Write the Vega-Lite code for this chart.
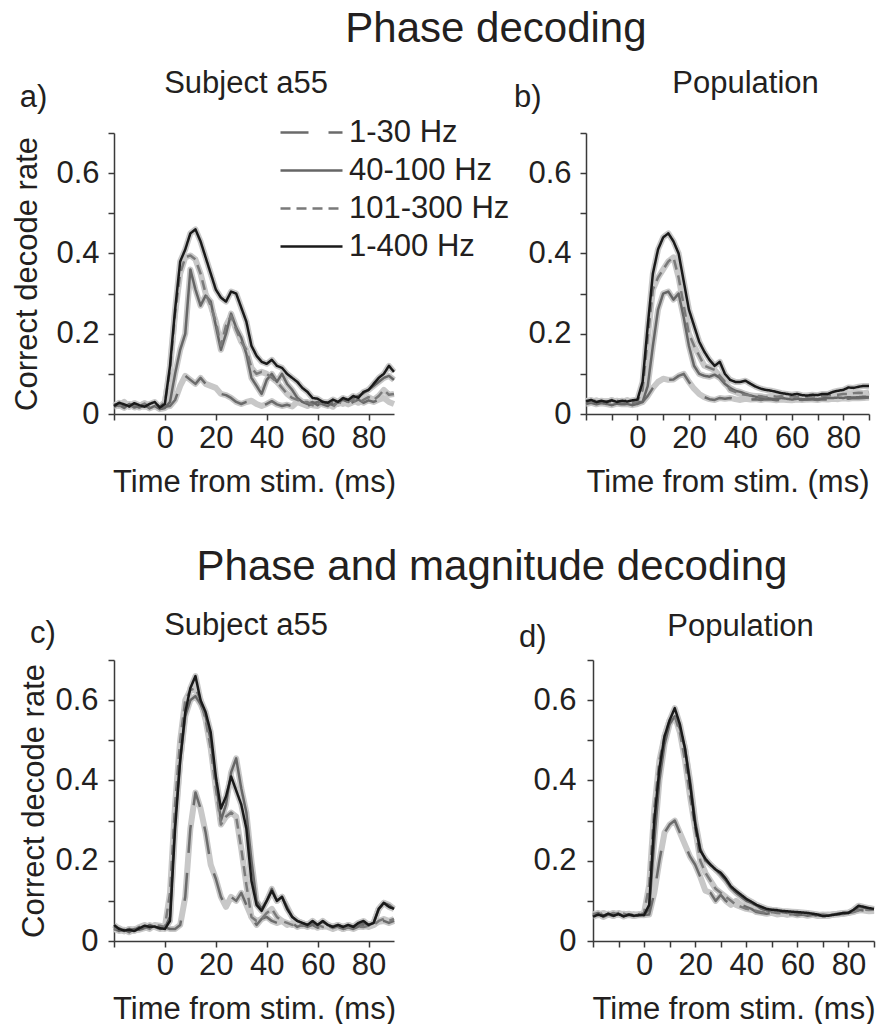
{
  "$schema": "https://vega.github.io/schema/vega-lite/v6.json",
  "background": "white",
  "padding": {"left": 11, "top": 8, "right": 5, "bottom": 0},
  "config": {
    "font": "Liberation Sans",
    "view": {"stroke": null},
    "axis": {
      "grid": false,
      "domainColor": "#3a3a3a",
      "domainWidth": 1.5,
      "tickColor": "#3a3a3a",
      "tickWidth": 1.5,
      "tickSize": 6,
      "labelFontSize": 31,
      "titleFontSize": 31,
      "labelColor": "#231f20",
      "titleColor": "#231f20",
      "titleFontWeight": "normal",
      "labelFont": "Liberation Sans",
      "titleFont": "Liberation Sans",
      "labelOverlap": false,
      "labelFlush": false
    },
    "axisX": {"values": [-20, -10, 0, 10, 20, 30, 40, 50, 60, 70, 80, 90], "labelExpr": "datum.value >= 0 && datum.value % 20 == 0 ? toString(datum.value) : ''", "labelPadding": 3, "titlePadding": 14},
    "axisY": {"values": [0, 0.1, 0.2, 0.3, 0.4, 0.5, 0.6], "labelExpr": "round(datum.value * 10) % 2 == 0 ? toString(datum.value) : ''"},
    "title": {"fontSize": 31, "fontWeight": "normal", "color": "#231f20", "font": "Liberation Sans"},
    "text": {"font": "Liberation Sans"}
  },
  "datasets": {
    "pa": [
      {"t": -20, "1-30 Hz": 0.022, "40-100 Hz": 0.018, "101-300 Hz": 0.025, "1-400 Hz": 0.02},
      {"t": -18, "1-30 Hz": 0.026, "40-100 Hz": 0.022, "101-300 Hz": 0.02, "1-400 Hz": 0.028},
      {"t": -16, "1-30 Hz": 0.018, "40-100 Hz": 0.015, "101-300 Hz": 0.03, "1-400 Hz": 0.024},
      {"t": -14, "1-30 Hz": 0.024, "40-100 Hz": 0.025, "101-300 Hz": 0.018, "1-400 Hz": 0.019},
      {"t": -12, "1-30 Hz": 0.016, "40-100 Hz": 0.02, "101-300 Hz": 0.024, "1-400 Hz": 0.027},
      {"t": -10, "1-30 Hz": 0.02, "40-100 Hz": 0.016, "101-300 Hz": 0.02, "1-400 Hz": 0.022},
      {"t": -8, "1-30 Hz": 0.027, "40-100 Hz": 0.022, "101-300 Hz": 0.026, "1-400 Hz": 0.018},
      {"t": -6, "1-30 Hz": 0.019, "40-100 Hz": 0.014, "101-300 Hz": 0.017, "1-400 Hz": 0.025},
      {"t": -4, "1-30 Hz": 0.022, "40-100 Hz": 0.02, "101-300 Hz": 0.023, "1-400 Hz": 0.03},
      {"t": -2, "1-30 Hz": 0.015, "40-100 Hz": 0.012, "101-300 Hz": 0.018, "1-400 Hz": 0.016},
      {"t": 0, "1-30 Hz": 0.018, "40-100 Hz": 0.015, "101-300 Hz": 0.03, "1-400 Hz": 0.025},
      {"t": 2, "1-30 Hz": 0.02, "40-100 Hz": 0.03, "101-300 Hz": 0.11, "1-400 Hz": 0.12},
      {"t": 4, "1-30 Hz": 0.035, "40-100 Hz": 0.1, "101-300 Hz": 0.25, "1-400 Hz": 0.26},
      {"t": 6, "1-30 Hz": 0.07, "40-100 Hz": 0.16, "101-300 Hz": 0.35, "1-400 Hz": 0.38},
      {"t": 8, "1-30 Hz": 0.095, "40-100 Hz": 0.2, "101-300 Hz": 0.39, "1-400 Hz": 0.41},
      {"t": 10, "1-30 Hz": 0.085, "40-100 Hz": 0.36, "101-300 Hz": 0.395, "1-400 Hz": 0.45},
      {"t": 12, "1-30 Hz": 0.075, "40-100 Hz": 0.31, "101-300 Hz": 0.385, "1-400 Hz": 0.46},
      {"t": 14, "1-30 Hz": 0.09, "40-100 Hz": 0.27, "101-300 Hz": 0.35, "1-400 Hz": 0.43},
      {"t": 16, "1-30 Hz": 0.075, "40-100 Hz": 0.295, "101-300 Hz": 0.3, "1-400 Hz": 0.39},
      {"t": 18, "1-30 Hz": 0.07, "40-100 Hz": 0.28, "101-300 Hz": 0.27, "1-400 Hz": 0.35},
      {"t": 20, "1-30 Hz": 0.065, "40-100 Hz": 0.22, "101-300 Hz": 0.23, "1-400 Hz": 0.31},
      {"t": 22, "1-30 Hz": 0.05, "40-100 Hz": 0.16, "101-300 Hz": 0.17, "1-400 Hz": 0.29},
      {"t": 24, "1-30 Hz": 0.047, "40-100 Hz": 0.2, "101-300 Hz": 0.22, "1-400 Hz": 0.28},
      {"t": 26, "1-30 Hz": 0.04, "40-100 Hz": 0.25, "101-300 Hz": 0.245, "1-400 Hz": 0.305},
      {"t": 28, "1-30 Hz": 0.03, "40-100 Hz": 0.215, "101-300 Hz": 0.21, "1-400 Hz": 0.3},
      {"t": 30, "1-30 Hz": 0.025, "40-100 Hz": 0.19, "101-300 Hz": 0.18, "1-400 Hz": 0.265},
      {"t": 32, "1-30 Hz": 0.03, "40-100 Hz": 0.15, "101-300 Hz": 0.16, "1-400 Hz": 0.23},
      {"t": 34, "1-30 Hz": 0.033, "40-100 Hz": 0.09, "101-300 Hz": 0.115, "1-400 Hz": 0.17},
      {"t": 36, "1-30 Hz": 0.025, "40-100 Hz": 0.07, "101-300 Hz": 0.1, "1-400 Hz": 0.145},
      {"t": 38, "1-30 Hz": 0.02, "40-100 Hz": 0.05, "101-300 Hz": 0.105, "1-400 Hz": 0.13},
      {"t": 40, "1-30 Hz": 0.025, "40-100 Hz": 0.085, "101-300 Hz": 0.1, "1-400 Hz": 0.125},
      {"t": 42, "1-30 Hz": 0.032, "40-100 Hz": 0.1, "101-300 Hz": 0.09, "1-400 Hz": 0.135},
      {"t": 44, "1-30 Hz": 0.024, "40-100 Hz": 0.08, "101-300 Hz": 0.08, "1-400 Hz": 0.12},
      {"t": 46, "1-30 Hz": 0.02, "40-100 Hz": 0.1, "101-300 Hz": 0.065, "1-400 Hz": 0.115},
      {"t": 48, "1-30 Hz": 0.023, "40-100 Hz": 0.075, "101-300 Hz": 0.05, "1-400 Hz": 0.1},
      {"t": 50, "1-30 Hz": 0.019, "40-100 Hz": 0.06, "101-300 Hz": 0.04, "1-400 Hz": 0.09},
      {"t": 52, "1-30 Hz": 0.03, "40-100 Hz": 0.04, "101-300 Hz": 0.035, "1-400 Hz": 0.08},
      {"t": 54, "1-30 Hz": 0.025, "40-100 Hz": 0.03, "101-300 Hz": 0.03, "1-400 Hz": 0.065},
      {"t": 56, "1-30 Hz": 0.02, "40-100 Hz": 0.025, "101-300 Hz": 0.03, "1-400 Hz": 0.055},
      {"t": 58, "1-30 Hz": 0.026, "40-100 Hz": 0.03, "101-300 Hz": 0.022, "1-400 Hz": 0.04},
      {"t": 60, "1-30 Hz": 0.03, "40-100 Hz": 0.022, "101-300 Hz": 0.02, "1-400 Hz": 0.038},
      {"t": 62, "1-30 Hz": 0.024, "40-100 Hz": 0.03, "101-300 Hz": 0.03, "1-400 Hz": 0.03},
      {"t": 64, "1-30 Hz": 0.02, "40-100 Hz": 0.028, "101-300 Hz": 0.025, "1-400 Hz": 0.028},
      {"t": 66, "1-30 Hz": 0.03, "40-100 Hz": 0.022, "101-300 Hz": 0.018, "1-400 Hz": 0.036},
      {"t": 68, "1-30 Hz": 0.025, "40-100 Hz": 0.03, "101-300 Hz": 0.03, "1-400 Hz": 0.03},
      {"t": 70, "1-30 Hz": 0.03, "40-100 Hz": 0.035, "101-300 Hz": 0.025, "1-400 Hz": 0.04},
      {"t": 72, "1-30 Hz": 0.024, "40-100 Hz": 0.03, "101-300 Hz": 0.032, "1-400 Hz": 0.035},
      {"t": 74, "1-30 Hz": 0.03, "40-100 Hz": 0.04, "101-300 Hz": 0.035, "1-400 Hz": 0.045},
      {"t": 76, "1-30 Hz": 0.036, "40-100 Hz": 0.045, "101-300 Hz": 0.028, "1-400 Hz": 0.04},
      {"t": 78, "1-30 Hz": 0.028, "40-100 Hz": 0.052, "101-300 Hz": 0.035, "1-400 Hz": 0.055},
      {"t": 80, "1-30 Hz": 0.034, "40-100 Hz": 0.06, "101-300 Hz": 0.042, "1-400 Hz": 0.06},
      {"t": 82, "1-30 Hz": 0.03, "40-100 Hz": 0.07, "101-300 Hz": 0.035, "1-400 Hz": 0.075},
      {"t": 84, "1-30 Hz": 0.036, "40-100 Hz": 0.08, "101-300 Hz": 0.045, "1-400 Hz": 0.09},
      {"t": 86, "1-30 Hz": 0.04, "40-100 Hz": 0.09, "101-300 Hz": 0.06, "1-400 Hz": 0.1},
      {"t": 88, "1-30 Hz": 0.03, "40-100 Hz": 0.095, "101-300 Hz": 0.048, "1-400 Hz": 0.12},
      {"t": 90, "1-30 Hz": 0.025, "40-100 Hz": 0.085, "101-300 Hz": 0.05, "1-400 Hz": 0.105}
    ],
    "pb": [
      {"t": -20, "1-30 Hz": 0.03, "40-100 Hz": 0.025, "101-300 Hz": 0.033, "1-400 Hz": 0.032},
      {"t": -18, "1-30 Hz": 0.033, "40-100 Hz": 0.028, "101-300 Hz": 0.03, "1-400 Hz": 0.035},
      {"t": -16, "1-30 Hz": 0.028, "40-100 Hz": 0.024, "101-300 Hz": 0.034, "1-400 Hz": 0.03},
      {"t": -14, "1-30 Hz": 0.032, "40-100 Hz": 0.027, "101-300 Hz": 0.029, "1-400 Hz": 0.033},
      {"t": -12, "1-30 Hz": 0.03, "40-100 Hz": 0.025, "101-300 Hz": 0.032, "1-400 Hz": 0.03},
      {"t": -10, "1-30 Hz": 0.035, "40-100 Hz": 0.022, "101-300 Hz": 0.03, "1-400 Hz": 0.034},
      {"t": -8, "1-30 Hz": 0.03, "40-100 Hz": 0.026, "101-300 Hz": 0.033, "1-400 Hz": 0.03},
      {"t": -6, "1-30 Hz": 0.032, "40-100 Hz": 0.024, "101-300 Hz": 0.03, "1-400 Hz": 0.033},
      {"t": -4, "1-30 Hz": 0.03, "40-100 Hz": 0.025, "101-300 Hz": 0.035, "1-400 Hz": 0.031},
      {"t": -2, "1-30 Hz": 0.028, "40-100 Hz": 0.022, "101-300 Hz": 0.03, "1-400 Hz": 0.034},
      {"t": 0, "1-30 Hz": 0.03, "40-100 Hz": 0.025, "101-300 Hz": 0.032, "1-400 Hz": 0.036},
      {"t": 2, "1-30 Hz": 0.03, "40-100 Hz": 0.03, "101-300 Hz": 0.06, "1-400 Hz": 0.08},
      {"t": 4, "1-30 Hz": 0.045, "40-100 Hz": 0.07, "101-300 Hz": 0.19, "1-400 Hz": 0.22},
      {"t": 6, "1-30 Hz": 0.065, "40-100 Hz": 0.17, "101-300 Hz": 0.31, "1-400 Hz": 0.35},
      {"t": 8, "1-30 Hz": 0.08, "40-100 Hz": 0.26, "101-300 Hz": 0.34, "1-400 Hz": 0.41},
      {"t": 10, "1-30 Hz": 0.088, "40-100 Hz": 0.3, "101-300 Hz": 0.36, "1-400 Hz": 0.44},
      {"t": 12, "1-30 Hz": 0.085, "40-100 Hz": 0.305, "101-300 Hz": 0.38, "1-400 Hz": 0.45},
      {"t": 14, "1-30 Hz": 0.086, "40-100 Hz": 0.285, "101-300 Hz": 0.39, "1-400 Hz": 0.43},
      {"t": 16, "1-30 Hz": 0.095, "40-100 Hz": 0.3, "101-300 Hz": 0.34, "1-400 Hz": 0.4},
      {"t": 18, "1-30 Hz": 0.1, "40-100 Hz": 0.24, "101-300 Hz": 0.27, "1-400 Hz": 0.33},
      {"t": 20, "1-30 Hz": 0.08, "40-100 Hz": 0.17, "101-300 Hz": 0.2, "1-400 Hz": 0.26},
      {"t": 22, "1-30 Hz": 0.063, "40-100 Hz": 0.12, "101-300 Hz": 0.17, "1-400 Hz": 0.22},
      {"t": 24, "1-30 Hz": 0.05, "40-100 Hz": 0.1, "101-300 Hz": 0.145, "1-400 Hz": 0.18},
      {"t": 26, "1-30 Hz": 0.042, "40-100 Hz": 0.095, "101-300 Hz": 0.12, "1-400 Hz": 0.155},
      {"t": 28, "1-30 Hz": 0.037, "40-100 Hz": 0.093, "101-300 Hz": 0.115, "1-400 Hz": 0.135},
      {"t": 30, "1-30 Hz": 0.035, "40-100 Hz": 0.098, "101-300 Hz": 0.11, "1-400 Hz": 0.12},
      {"t": 32, "1-30 Hz": 0.04, "40-100 Hz": 0.09, "101-300 Hz": 0.095, "1-400 Hz": 0.13},
      {"t": 34, "1-30 Hz": 0.038, "40-100 Hz": 0.075, "101-300 Hz": 0.08, "1-400 Hz": 0.1},
      {"t": 36, "1-30 Hz": 0.04, "40-100 Hz": 0.065, "101-300 Hz": 0.06, "1-400 Hz": 0.085},
      {"t": 38, "1-30 Hz": 0.037, "40-100 Hz": 0.058, "101-300 Hz": 0.055, "1-400 Hz": 0.08},
      {"t": 40, "1-30 Hz": 0.035, "40-100 Hz": 0.055, "101-300 Hz": 0.05, "1-400 Hz": 0.08},
      {"t": 42, "1-30 Hz": 0.038, "40-100 Hz": 0.05, "101-300 Hz": 0.048, "1-400 Hz": 0.083},
      {"t": 44, "1-30 Hz": 0.036, "40-100 Hz": 0.046, "101-300 Hz": 0.046, "1-400 Hz": 0.075},
      {"t": 46, "1-30 Hz": 0.037, "40-100 Hz": 0.043, "101-300 Hz": 0.045, "1-400 Hz": 0.068},
      {"t": 48, "1-30 Hz": 0.035, "40-100 Hz": 0.04, "101-300 Hz": 0.044, "1-400 Hz": 0.063},
      {"t": 50, "1-30 Hz": 0.037, "40-100 Hz": 0.04, "101-300 Hz": 0.042, "1-400 Hz": 0.06},
      {"t": 52, "1-30 Hz": 0.036, "40-100 Hz": 0.038, "101-300 Hz": 0.045, "1-400 Hz": 0.058},
      {"t": 54, "1-30 Hz": 0.034, "40-100 Hz": 0.037, "101-300 Hz": 0.043, "1-400 Hz": 0.055},
      {"t": 56, "1-30 Hz": 0.036, "40-100 Hz": 0.04, "101-300 Hz": 0.044, "1-400 Hz": 0.052},
      {"t": 58, "1-30 Hz": 0.035, "40-100 Hz": 0.038, "101-300 Hz": 0.042, "1-400 Hz": 0.05},
      {"t": 60, "1-30 Hz": 0.034, "40-100 Hz": 0.036, "101-300 Hz": 0.044, "1-400 Hz": 0.048},
      {"t": 62, "1-30 Hz": 0.036, "40-100 Hz": 0.038, "101-300 Hz": 0.042, "1-400 Hz": 0.05},
      {"t": 64, "1-30 Hz": 0.035, "40-100 Hz": 0.037, "101-300 Hz": 0.045, "1-400 Hz": 0.047},
      {"t": 66, "1-30 Hz": 0.037, "40-100 Hz": 0.036, "101-300 Hz": 0.043, "1-400 Hz": 0.046},
      {"t": 68, "1-30 Hz": 0.036, "40-100 Hz": 0.038, "101-300 Hz": 0.044, "1-400 Hz": 0.048},
      {"t": 70, "1-30 Hz": 0.035, "40-100 Hz": 0.037, "101-300 Hz": 0.043, "1-400 Hz": 0.047},
      {"t": 72, "1-30 Hz": 0.037, "40-100 Hz": 0.039, "101-300 Hz": 0.045, "1-400 Hz": 0.05},
      {"t": 74, "1-30 Hz": 0.036, "40-100 Hz": 0.04, "101-300 Hz": 0.046, "1-400 Hz": 0.05},
      {"t": 76, "1-30 Hz": 0.038, "40-100 Hz": 0.04, "101-300 Hz": 0.047, "1-400 Hz": 0.055},
      {"t": 78, "1-30 Hz": 0.037, "40-100 Hz": 0.041, "101-300 Hz": 0.048, "1-400 Hz": 0.058},
      {"t": 80, "1-30 Hz": 0.039, "40-100 Hz": 0.04, "101-300 Hz": 0.05, "1-400 Hz": 0.06},
      {"t": 82, "1-30 Hz": 0.038, "40-100 Hz": 0.042, "101-300 Hz": 0.05, "1-400 Hz": 0.066},
      {"t": 84, "1-30 Hz": 0.04, "40-100 Hz": 0.041, "101-300 Hz": 0.052, "1-400 Hz": 0.065},
      {"t": 86, "1-30 Hz": 0.039, "40-100 Hz": 0.042, "101-300 Hz": 0.053, "1-400 Hz": 0.068},
      {"t": 88, "1-30 Hz": 0.04, "40-100 Hz": 0.043, "101-300 Hz": 0.052, "1-400 Hz": 0.07},
      {"t": 90, "1-30 Hz": 0.041, "40-100 Hz": 0.042, "101-300 Hz": 0.054, "1-400 Hz": 0.07}
    ],
    "pc": [
      {"t": -20, "1-30 Hz": 0.035, "40-100 Hz": 0.03, "101-300 Hz": 0.028, "1-400 Hz": 0.04},
      {"t": -18, "1-30 Hz": 0.03, "40-100 Hz": 0.025, "101-300 Hz": 0.032, "1-400 Hz": 0.03},
      {"t": -16, "1-30 Hz": 0.025, "40-100 Hz": 0.028, "101-300 Hz": 0.024, "1-400 Hz": 0.026},
      {"t": -14, "1-30 Hz": 0.03, "40-100 Hz": 0.022, "101-300 Hz": 0.03, "1-400 Hz": 0.028},
      {"t": -12, "1-30 Hz": 0.028, "40-100 Hz": 0.03, "101-300 Hz": 0.026, "1-400 Hz": 0.025},
      {"t": -10, "1-30 Hz": 0.035, "40-100 Hz": 0.028, "101-300 Hz": 0.03, "1-400 Hz": 0.032},
      {"t": -8, "1-30 Hz": 0.04, "40-100 Hz": 0.032, "101-300 Hz": 0.035, "1-400 Hz": 0.038},
      {"t": -6, "1-30 Hz": 0.033, "40-100 Hz": 0.04, "101-300 Hz": 0.03, "1-400 Hz": 0.035},
      {"t": -4, "1-30 Hz": 0.038, "40-100 Hz": 0.035, "101-300 Hz": 0.04, "1-400 Hz": 0.036},
      {"t": -2, "1-30 Hz": 0.035, "40-100 Hz": 0.03, "101-300 Hz": 0.038, "1-400 Hz": 0.032},
      {"t": 0, "1-30 Hz": 0.034, "40-100 Hz": 0.033, "101-300 Hz": 0.035, "1-400 Hz": 0.03},
      {"t": 2, "1-30 Hz": 0.03, "40-100 Hz": 0.06, "101-300 Hz": 0.12, "1-400 Hz": 0.05},
      {"t": 4, "1-30 Hz": 0.03, "40-100 Hz": 0.3, "101-300 Hz": 0.34, "1-400 Hz": 0.28},
      {"t": 6, "1-30 Hz": 0.04, "40-100 Hz": 0.45, "101-300 Hz": 0.5, "1-400 Hz": 0.45},
      {"t": 8, "1-30 Hz": 0.11, "40-100 Hz": 0.56, "101-300 Hz": 0.6, "1-400 Hz": 0.57},
      {"t": 10, "1-30 Hz": 0.28, "40-100 Hz": 0.6, "101-300 Hz": 0.625, "1-400 Hz": 0.63},
      {"t": 12, "1-30 Hz": 0.37, "40-100 Hz": 0.61, "101-300 Hz": 0.63, "1-400 Hz": 0.66},
      {"t": 14, "1-30 Hz": 0.33, "40-100 Hz": 0.59, "101-300 Hz": 0.6, "1-400 Hz": 0.6},
      {"t": 16, "1-30 Hz": 0.27, "40-100 Hz": 0.56, "101-300 Hz": 0.55, "1-400 Hz": 0.57},
      {"t": 18, "1-30 Hz": 0.19, "40-100 Hz": 0.5, "101-300 Hz": 0.48, "1-400 Hz": 0.52},
      {"t": 20, "1-30 Hz": 0.155, "40-100 Hz": 0.4, "101-300 Hz": 0.38, "1-400 Hz": 0.41},
      {"t": 22, "1-30 Hz": 0.11, "40-100 Hz": 0.3, "101-300 Hz": 0.29, "1-400 Hz": 0.33},
      {"t": 24, "1-30 Hz": 0.085, "40-100 Hz": 0.34, "101-300 Hz": 0.31, "1-400 Hz": 0.36},
      {"t": 26, "1-30 Hz": 0.11, "40-100 Hz": 0.42, "101-300 Hz": 0.32, "1-400 Hz": 0.41},
      {"t": 28, "1-30 Hz": 0.1, "40-100 Hz": 0.455, "101-300 Hz": 0.31, "1-400 Hz": 0.375},
      {"t": 30, "1-30 Hz": 0.12, "40-100 Hz": 0.38, "101-300 Hz": 0.23, "1-400 Hz": 0.34},
      {"t": 32, "1-30 Hz": 0.09, "40-100 Hz": 0.32, "101-300 Hz": 0.14, "1-400 Hz": 0.28},
      {"t": 34, "1-30 Hz": 0.06, "40-100 Hz": 0.2, "101-300 Hz": 0.06, "1-400 Hz": 0.15},
      {"t": 36, "1-30 Hz": 0.04, "40-100 Hz": 0.1, "101-300 Hz": 0.05, "1-400 Hz": 0.09},
      {"t": 38, "1-30 Hz": 0.055, "40-100 Hz": 0.08, "101-300 Hz": 0.055, "1-400 Hz": 0.075},
      {"t": 40, "1-30 Hz": 0.06, "40-100 Hz": 0.1, "101-300 Hz": 0.07, "1-400 Hz": 0.1},
      {"t": 42, "1-30 Hz": 0.05, "40-100 Hz": 0.13, "101-300 Hz": 0.08, "1-400 Hz": 0.125},
      {"t": 44, "1-30 Hz": 0.045, "40-100 Hz": 0.1, "101-300 Hz": 0.06, "1-400 Hz": 0.1},
      {"t": 46, "1-30 Hz": 0.05, "40-100 Hz": 0.11, "101-300 Hz": 0.05, "1-400 Hz": 0.11},
      {"t": 48, "1-30 Hz": 0.04, "40-100 Hz": 0.085, "101-300 Hz": 0.045, "1-400 Hz": 0.08},
      {"t": 50, "1-30 Hz": 0.045, "40-100 Hz": 0.06, "101-300 Hz": 0.04, "1-400 Hz": 0.06},
      {"t": 52, "1-30 Hz": 0.035, "40-100 Hz": 0.05, "101-300 Hz": 0.042, "1-400 Hz": 0.05},
      {"t": 54, "1-30 Hz": 0.04, "40-100 Hz": 0.045, "101-300 Hz": 0.038, "1-400 Hz": 0.045},
      {"t": 56, "1-30 Hz": 0.035, "40-100 Hz": 0.04, "101-300 Hz": 0.042, "1-400 Hz": 0.04},
      {"t": 58, "1-30 Hz": 0.04, "40-100 Hz": 0.045, "101-300 Hz": 0.036, "1-400 Hz": 0.05},
      {"t": 60, "1-30 Hz": 0.033, "40-100 Hz": 0.04, "101-300 Hz": 0.04, "1-400 Hz": 0.04},
      {"t": 62, "1-30 Hz": 0.038, "40-100 Hz": 0.048, "101-300 Hz": 0.035, "1-400 Hz": 0.05},
      {"t": 64, "1-30 Hz": 0.035, "40-100 Hz": 0.04, "101-300 Hz": 0.038, "1-400 Hz": 0.04},
      {"t": 66, "1-30 Hz": 0.03, "40-100 Hz": 0.036, "101-300 Hz": 0.032, "1-400 Hz": 0.035},
      {"t": 68, "1-30 Hz": 0.035, "40-100 Hz": 0.04, "101-300 Hz": 0.036, "1-400 Hz": 0.04},
      {"t": 70, "1-30 Hz": 0.03, "40-100 Hz": 0.035, "101-300 Hz": 0.03, "1-400 Hz": 0.035},
      {"t": 72, "1-30 Hz": 0.034, "40-100 Hz": 0.04, "101-300 Hz": 0.035, "1-400 Hz": 0.04},
      {"t": 74, "1-30 Hz": 0.03, "40-100 Hz": 0.036, "101-300 Hz": 0.033, "1-400 Hz": 0.035},
      {"t": 76, "1-30 Hz": 0.036, "40-100 Hz": 0.042, "101-300 Hz": 0.036, "1-400 Hz": 0.045},
      {"t": 78, "1-30 Hz": 0.04, "40-100 Hz": 0.045, "101-300 Hz": 0.035, "1-400 Hz": 0.05},
      {"t": 80, "1-30 Hz": 0.035, "40-100 Hz": 0.04, "101-300 Hz": 0.038, "1-400 Hz": 0.04},
      {"t": 82, "1-30 Hz": 0.04, "40-100 Hz": 0.045, "101-300 Hz": 0.04, "1-400 Hz": 0.045},
      {"t": 84, "1-30 Hz": 0.048, "40-100 Hz": 0.08, "101-300 Hz": 0.05, "1-400 Hz": 0.08},
      {"t": 86, "1-30 Hz": 0.05, "40-100 Hz": 0.095, "101-300 Hz": 0.055, "1-400 Hz": 0.095},
      {"t": 88, "1-30 Hz": 0.045, "40-100 Hz": 0.09, "101-300 Hz": 0.05, "1-400 Hz": 0.085},
      {"t": 90, "1-30 Hz": 0.05, "40-100 Hz": 0.08, "101-300 Hz": 0.055, "1-400 Hz": 0.08}
    ],
    "pd": [
      {"t": -20, "1-30 Hz": 0.066, "40-100 Hz": 0.062, "101-300 Hz": 0.068, "1-400 Hz": 0.06},
      {"t": -18, "1-30 Hz": 0.07, "40-100 Hz": 0.068, "101-300 Hz": 0.064, "1-400 Hz": 0.066},
      {"t": -16, "1-30 Hz": 0.063, "40-100 Hz": 0.06, "101-300 Hz": 0.07, "1-400 Hz": 0.062},
      {"t": -14, "1-30 Hz": 0.068, "40-100 Hz": 0.066, "101-300 Hz": 0.065, "1-400 Hz": 0.068},
      {"t": -12, "1-30 Hz": 0.064, "40-100 Hz": 0.062, "101-300 Hz": 0.07, "1-400 Hz": 0.063},
      {"t": -10, "1-30 Hz": 0.07, "40-100 Hz": 0.068, "101-300 Hz": 0.066, "1-400 Hz": 0.067},
      {"t": -8, "1-30 Hz": 0.066, "40-100 Hz": 0.063, "101-300 Hz": 0.068, "1-400 Hz": 0.061},
      {"t": -6, "1-30 Hz": 0.068, "40-100 Hz": 0.065, "101-300 Hz": 0.064, "1-400 Hz": 0.066},
      {"t": -4, "1-30 Hz": 0.064, "40-100 Hz": 0.062, "101-300 Hz": 0.067, "1-400 Hz": 0.063},
      {"t": -2, "1-30 Hz": 0.067, "40-100 Hz": 0.066, "101-300 Hz": 0.065, "1-400 Hz": 0.064},
      {"t": 0, "1-30 Hz": 0.065, "40-100 Hz": 0.064, "101-300 Hz": 0.07, "1-400 Hz": 0.065},
      {"t": 2, "1-30 Hz": 0.066, "40-100 Hz": 0.08, "101-300 Hz": 0.14, "1-400 Hz": 0.09},
      {"t": 4, "1-30 Hz": 0.12, "40-100 Hz": 0.25, "101-300 Hz": 0.33, "1-400 Hz": 0.3},
      {"t": 6, "1-30 Hz": 0.2, "40-100 Hz": 0.4, "101-300 Hz": 0.45, "1-400 Hz": 0.43},
      {"t": 8, "1-30 Hz": 0.27, "40-100 Hz": 0.49, "101-300 Hz": 0.51, "1-400 Hz": 0.51},
      {"t": 10, "1-30 Hz": 0.29, "40-100 Hz": 0.54, "101-300 Hz": 0.55, "1-400 Hz": 0.55},
      {"t": 12, "1-30 Hz": 0.3, "40-100 Hz": 0.56, "101-300 Hz": 0.56, "1-400 Hz": 0.58},
      {"t": 14, "1-30 Hz": 0.27, "40-100 Hz": 0.53, "101-300 Hz": 0.52, "1-400 Hz": 0.54},
      {"t": 16, "1-30 Hz": 0.24, "40-100 Hz": 0.48, "101-300 Hz": 0.45, "1-400 Hz": 0.48},
      {"t": 18, "1-30 Hz": 0.21, "40-100 Hz": 0.4, "101-300 Hz": 0.36, "1-400 Hz": 0.39},
      {"t": 20, "1-30 Hz": 0.19, "40-100 Hz": 0.3, "101-300 Hz": 0.28, "1-400 Hz": 0.29},
      {"t": 22, "1-30 Hz": 0.16, "40-100 Hz": 0.23, "101-300 Hz": 0.2, "1-400 Hz": 0.225},
      {"t": 24, "1-30 Hz": 0.125, "40-100 Hz": 0.2, "101-300 Hz": 0.17, "1-400 Hz": 0.205},
      {"t": 26, "1-30 Hz": 0.12, "40-100 Hz": 0.19, "101-300 Hz": 0.15, "1-400 Hz": 0.19},
      {"t": 28, "1-30 Hz": 0.1, "40-100 Hz": 0.178, "101-300 Hz": 0.13, "1-400 Hz": 0.178},
      {"t": 30, "1-30 Hz": 0.115, "40-100 Hz": 0.165, "101-300 Hz": 0.12, "1-400 Hz": 0.17},
      {"t": 32, "1-30 Hz": 0.1, "40-100 Hz": 0.15, "101-300 Hz": 0.11, "1-400 Hz": 0.155},
      {"t": 34, "1-30 Hz": 0.09, "40-100 Hz": 0.132, "101-300 Hz": 0.1, "1-400 Hz": 0.136},
      {"t": 36, "1-30 Hz": 0.1, "40-100 Hz": 0.12, "101-300 Hz": 0.09, "1-400 Hz": 0.125},
      {"t": 38, "1-30 Hz": 0.09, "40-100 Hz": 0.11, "101-300 Hz": 0.085, "1-400 Hz": 0.115},
      {"t": 40, "1-30 Hz": 0.085, "40-100 Hz": 0.1, "101-300 Hz": 0.08, "1-400 Hz": 0.105},
      {"t": 42, "1-30 Hz": 0.08, "40-100 Hz": 0.095, "101-300 Hz": 0.078, "1-400 Hz": 0.098},
      {"t": 44, "1-30 Hz": 0.072, "40-100 Hz": 0.088, "101-300 Hz": 0.075, "1-400 Hz": 0.09},
      {"t": 46, "1-30 Hz": 0.07, "40-100 Hz": 0.08, "101-300 Hz": 0.072, "1-400 Hz": 0.085},
      {"t": 48, "1-30 Hz": 0.068, "40-100 Hz": 0.076, "101-300 Hz": 0.07, "1-400 Hz": 0.08},
      {"t": 50, "1-30 Hz": 0.07, "40-100 Hz": 0.074, "101-300 Hz": 0.072, "1-400 Hz": 0.078},
      {"t": 52, "1-30 Hz": 0.066, "40-100 Hz": 0.073, "101-300 Hz": 0.07, "1-400 Hz": 0.077},
      {"t": 54, "1-30 Hz": 0.068, "40-100 Hz": 0.072, "101-300 Hz": 0.069, "1-400 Hz": 0.075},
      {"t": 56, "1-30 Hz": 0.065, "40-100 Hz": 0.07, "101-300 Hz": 0.071, "1-400 Hz": 0.074},
      {"t": 58, "1-30 Hz": 0.067, "40-100 Hz": 0.071, "101-300 Hz": 0.068, "1-400 Hz": 0.073},
      {"t": 60, "1-30 Hz": 0.064, "40-100 Hz": 0.069, "101-300 Hz": 0.07, "1-400 Hz": 0.072},
      {"t": 62, "1-30 Hz": 0.066, "40-100 Hz": 0.068, "101-300 Hz": 0.067, "1-400 Hz": 0.071},
      {"t": 64, "1-30 Hz": 0.063, "40-100 Hz": 0.067, "101-300 Hz": 0.068, "1-400 Hz": 0.07},
      {"t": 66, "1-30 Hz": 0.065, "40-100 Hz": 0.066, "101-300 Hz": 0.066, "1-400 Hz": 0.068},
      {"t": 68, "1-30 Hz": 0.062, "40-100 Hz": 0.064, "101-300 Hz": 0.065, "1-400 Hz": 0.066},
      {"t": 70, "1-30 Hz": 0.064, "40-100 Hz": 0.062, "101-300 Hz": 0.066, "1-400 Hz": 0.062},
      {"t": 72, "1-30 Hz": 0.066, "40-100 Hz": 0.063, "101-300 Hz": 0.064, "1-400 Hz": 0.063},
      {"t": 74, "1-30 Hz": 0.065, "40-100 Hz": 0.066, "101-300 Hz": 0.067, "1-400 Hz": 0.065},
      {"t": 76, "1-30 Hz": 0.068, "40-100 Hz": 0.068, "101-300 Hz": 0.066, "1-400 Hz": 0.067},
      {"t": 78, "1-30 Hz": 0.067, "40-100 Hz": 0.07, "101-300 Hz": 0.069, "1-400 Hz": 0.07},
      {"t": 80, "1-30 Hz": 0.07, "40-100 Hz": 0.071, "101-300 Hz": 0.07, "1-400 Hz": 0.07},
      {"t": 82, "1-30 Hz": 0.072, "40-100 Hz": 0.076, "101-300 Hz": 0.073, "1-400 Hz": 0.078},
      {"t": 84, "1-30 Hz": 0.078, "40-100 Hz": 0.085, "101-300 Hz": 0.076, "1-400 Hz": 0.088},
      {"t": 86, "1-30 Hz": 0.076, "40-100 Hz": 0.083, "101-300 Hz": 0.078, "1-400 Hz": 0.085},
      {"t": 88, "1-30 Hz": 0.074, "40-100 Hz": 0.08, "101-300 Hz": 0.077, "1-400 Hz": 0.082},
      {"t": 90, "1-30 Hz": 0.075, "40-100 Hz": 0.079, "101-300 Hz": 0.078, "1-400 Hz": 0.08}
    ]
  },
  "resolve": {"scale": {"color": "independent", "strokeDash": "independent"}, "legend": {"color": "independent", "strokeDash": "independent"}},
  "columns": 1,
  "align": "none",
  "spacing": 48,
  "concat": [
    {
      "title": {"text": "Phase decoding", "fontSize": 42, "anchor": "middle", "dx": 54, "offset": 17},
      "spacing": 3,
      "resolve": {"scale": {"color": "independent", "strokeDash": "independent"}, "legend": {"color": "independent", "strokeDash": "independent"}},
      "hconcat": [
        {
          "width": 280, "height": 281,
          "title": {"text": "Subject a55", "frame": "group", "anchor": "middle", "dx": -8, "offset": -18},
          "layer": [
            {"data": {"name": "pa"}, "transform": [{"fold": ["1-30 Hz", "40-100 Hz", "101-300 Hz", "1-400 Hz"], "as": ["band", "rate"]}],
              "mark": {"type": "line", "color": "#c8c8c8", "strokeWidth": 6, "strokeJoin": "round"},
              "encoding": {
                "x": {"field": "t", "type": "quantitative", "scale": {"domain": [-20, 90], "nice": false, "zero": false}, "axis": {"title": "Time from stim. (ms)"}},
                "y": {"field": "rate", "type": "quantitative", "scale": {"domain": [0, 0.7], "nice": false}, "axis": {"title": "Correct decode rate", "labelPadding": 9, "titlePadding": 12}},
                "detail": {"field": "band"}}},
            {"data": {"name": "pa"}, "transform": [{"fold": ["1-30 Hz", "40-100 Hz", "101-300 Hz", "1-400 Hz"], "as": ["band", "rate"]}],
              "mark": {"type": "line", "strokeWidth": 2.5, "strokeJoin": "round"},
              "encoding": {
                "x": {"field": "t", "type": "quantitative", "scale": {"domain": [-20, 90], "nice": false, "zero": false}, "axis": {"title": "Time from stim. (ms)"}},
                "y": {"field": "rate", "type": "quantitative", "scale": {"domain": [0, 0.7], "nice": false}, "axis": {"title": "Correct decode rate", "labelPadding": 9, "titlePadding": 12}},
                "color": {"field": "band", "type": "nominal", "scale": {"domain": ["1-30 Hz", "40-100 Hz", "101-300 Hz", "1-400 Hz"], "range": ["#6b6b6b", "#666666", "#7a7a7a", "#1a1a1a"]},
                  "legend": {"orient": "none", "legendX": 165, "legendY": -16, "title": null, "symbolType": "stroke", "symbolSize": 3844, "symbolStrokeWidth": 2.5, "labelFontSize": 31, "labelColor": "#231f20", "labelOffset": 5, "labelLimit": 0, "clipHeight": 31, "rowPadding": 6, "padding": 0}},
                "strokeDash": {"field": "band", "type": "nominal", "scale": {"domain": ["1-30 Hz", "40-100 Hz", "101-300 Hz", "1-400 Hz"], "range": [[28, 20], [1, 0], [10, 6], [1, 0]]},
                  "legend": {"orient": "none", "legendX": 165, "legendY": -16, "title": null, "symbolType": "stroke", "symbolSize": 3844, "symbolStrokeWidth": 2.5, "labelFontSize": 31, "labelColor": "#231f20", "labelOffset": 5, "labelLimit": 0, "clipHeight": 31, "rowPadding": 6, "padding": 0}}
              }},
            {"data": {"values": [{"lab": "a)", "px": -57, "py": 0.787}]},
              "mark": {"type": "text", "align": "left", "baseline": "middle", "fontSize": 31, "color": "#231f20", "clip": false},
              "encoding": {"x": {"field": "px", "type": "quantitative"}, "y": {"field": "py", "type": "quantitative"}, "text": {"field": "lab"}}}
          ]
        },
        {
          "width": 283, "height": 281,
          "title": {"text": "Population", "frame": "group", "anchor": "middle", "dx": 18, "offset": -18},
          "layer": [
            {"data": {"name": "pb"}, "transform": [{"fold": ["1-30 Hz", "40-100 Hz", "101-300 Hz", "1-400 Hz"], "as": ["band", "rate"]}],
              "mark": {"type": "line", "color": "#c8c8c8", "strokeWidth": 6, "strokeJoin": "round"},
              "encoding": {
                "x": {"field": "t", "type": "quantitative", "scale": {"domain": [-20, 90], "nice": false, "zero": false}, "axis": {"title": "Time from stim. (ms)"}},
                "y": {"field": "rate", "type": "quantitative", "scale": {"domain": [0, 0.7], "nice": false}, "axis": {"title": null, "labelPadding": 9}},
                "detail": {"field": "band"}}},
            {"data": {"name": "pb"}, "transform": [{"fold": ["1-30 Hz", "40-100 Hz", "101-300 Hz", "1-400 Hz"], "as": ["band", "rate"]}],
              "mark": {"type": "line", "strokeWidth": 2.5, "strokeJoin": "round"},
              "encoding": {
                "x": {"field": "t", "type": "quantitative", "scale": {"domain": [-20, 90], "nice": false, "zero": false}, "axis": {"title": "Time from stim. (ms)"}},
                "y": {"field": "rate", "type": "quantitative", "scale": {"domain": [0, 0.7], "nice": false}, "axis": {"title": null, "labelPadding": 9}},
                "color": {"field": "band", "type": "nominal", "scale": {"domain": ["1-30 Hz", "40-100 Hz", "101-300 Hz", "1-400 Hz"], "range": ["#6b6b6b", "#666666", "#7a7a7a", "#1a1a1a"]}, "legend": null},
                "strokeDash": {"field": "band", "type": "nominal", "scale": {"domain": ["1-30 Hz", "40-100 Hz", "101-300 Hz", "1-400 Hz"], "range": [[28, 20], [1, 0], [10, 6], [1, 0]]}, "legend": null}
              }},
            {"data": {"values": [{"lab": "b)", "px": -48, "py": 0.787}]},
              "mark": {"type": "text", "align": "left", "baseline": "middle", "fontSize": 31, "color": "#231f20", "clip": false},
              "encoding": {"x": {"field": "px", "type": "quantitative"}, "y": {"field": "py", "type": "quantitative"}, "text": {"field": "lab"}}}
          ]
        }
      ]
    },
    {
      "title": {"text": "Phase and magnitude decoding", "fontSize": 42, "anchor": "middle", "dx": 44, "offset": 21},
      "spacing": 121,
      "resolve": {"scale": {"color": "independent", "strokeDash": "independent"}, "legend": {"color": "independent", "strokeDash": "independent"}},
      "hconcat": [
        {
          "width": 280, "height": 281,
          "title": {"text": "Subject a55", "frame": "group", "anchor": "middle", "dx": -8, "offset": -24},
          "layer": [
            {"data": {"name": "pc"}, "transform": [{"fold": ["1-30 Hz", "40-100 Hz", "101-300 Hz", "1-400 Hz"], "as": ["band", "rate"]}],
              "mark": {"type": "line", "color": "#c8c8c8", "strokeWidth": 6, "strokeJoin": "round"},
              "encoding": {
                "x": {"field": "t", "type": "quantitative", "scale": {"domain": [-20, 90], "nice": false, "zero": false}, "axis": {"title": "Time from stim. (ms)"}},
                "y": {"field": "rate", "type": "quantitative", "scale": {"domain": [0, 0.7], "nice": false}, "axis": {"title": "Correct decode rate", "labelPadding": 10, "titlePadding": 4}},
                "detail": {"field": "band"}}},
            {"data": {"name": "pc"}, "transform": [{"fold": ["1-30 Hz", "40-100 Hz", "101-300 Hz", "1-400 Hz"], "as": ["band", "rate"]}],
              "mark": {"type": "line", "strokeWidth": 2.5, "strokeJoin": "round"},
              "encoding": {
                "x": {"field": "t", "type": "quantitative", "scale": {"domain": [-20, 90], "nice": false, "zero": false}, "axis": {"title": "Time from stim. (ms)"}},
                "y": {"field": "rate", "type": "quantitative", "scale": {"domain": [0, 0.7], "nice": false}, "axis": {"title": "Correct decode rate", "labelPadding": 10, "titlePadding": 4}},
                "color": {"field": "band", "type": "nominal", "scale": {"domain": ["1-30 Hz", "40-100 Hz", "101-300 Hz", "1-400 Hz"], "range": ["#6b6b6b", "#666666", "#7a7a7a", "#1a1a1a"]}, "legend": null},
                "strokeDash": {"field": "band", "type": "nominal", "scale": {"domain": ["1-30 Hz", "40-100 Hz", "101-300 Hz", "1-400 Hz"], "range": [[28, 20], [1, 0], [10, 6], [1, 0]]}, "legend": null}
              }},
            {"data": {"values": [{"lab": "c)", "px": -53, "py": 0.765}]},
              "mark": {"type": "text", "align": "left", "baseline": "middle", "fontSize": 31, "color": "#231f20", "clip": false},
              "encoding": {"x": {"field": "px", "type": "quantitative"}, "y": {"field": "py", "type": "quantitative"}, "text": {"field": "lab"}}}
          ]
        },
        {
          "width": 281, "height": 281,
          "title": {"text": "Population", "frame": "group", "anchor": "middle", "dx": 7, "offset": -21},
          "layer": [
            {"data": {"name": "pd"}, "transform": [{"fold": ["1-30 Hz", "40-100 Hz", "101-300 Hz", "1-400 Hz"], "as": ["band", "rate"]}],
              "mark": {"type": "line", "color": "#c8c8c8", "strokeWidth": 6, "strokeJoin": "round"},
              "encoding": {
                "x": {"field": "t", "type": "quantitative", "scale": {"domain": [-20, 90], "nice": false, "zero": false}, "axis": {"title": "Time from stim. (ms)"}},
                "y": {"field": "rate", "type": "quantitative", "scale": {"domain": [0, 0.7], "nice": false}, "axis": {"title": null, "labelPadding": 11}},
                "detail": {"field": "band"}}},
            {"data": {"name": "pd"}, "transform": [{"fold": ["1-30 Hz", "40-100 Hz", "101-300 Hz", "1-400 Hz"], "as": ["band", "rate"]}],
              "mark": {"type": "line", "strokeWidth": 2.5, "strokeJoin": "round"},
              "encoding": {
                "x": {"field": "t", "type": "quantitative", "scale": {"domain": [-20, 90], "nice": false, "zero": false}, "axis": {"title": "Time from stim. (ms)"}},
                "y": {"field": "rate", "type": "quantitative", "scale": {"domain": [0, 0.7], "nice": false}, "axis": {"title": null, "labelPadding": 11}},
                "color": {"field": "band", "type": "nominal", "scale": {"domain": ["1-30 Hz", "40-100 Hz", "101-300 Hz", "1-400 Hz"], "range": ["#6b6b6b", "#666666", "#7a7a7a", "#1a1a1a"]}, "legend": null},
                "strokeDash": {"field": "band", "type": "nominal", "scale": {"domain": ["1-30 Hz", "40-100 Hz", "101-300 Hz", "1-400 Hz"], "range": [[28, 20], [1, 0], [10, 6], [1, 0]]}, "legend": null}
              }},
            {"data": {"values": [{"lab": "d)", "px": -49, "py": 0.755}]},
              "mark": {"type": "text", "align": "left", "baseline": "middle", "fontSize": 31, "color": "#231f20", "clip": false},
              "encoding": {"x": {"field": "px", "type": "quantitative"}, "y": {"field": "py", "type": "quantitative"}, "text": {"field": "lab"}}}
          ]
        }
      ]
    }
  ]
}
